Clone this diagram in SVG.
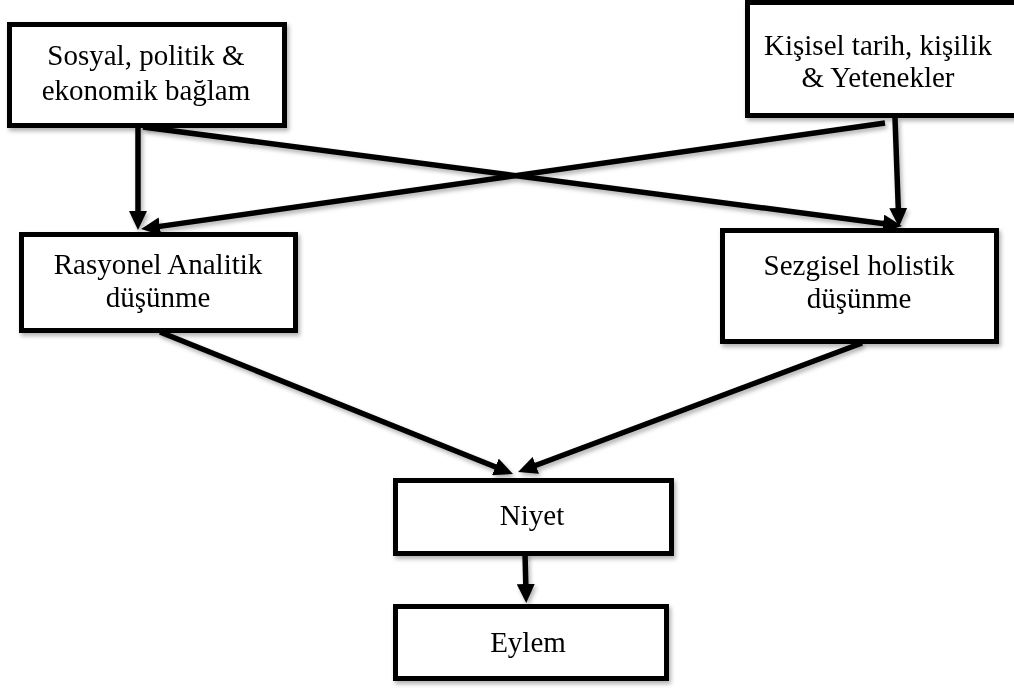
<svg xmlns="http://www.w3.org/2000/svg" width="1014" height="691" viewBox="0 0 1014 691">
<style>
.box{fill:#fff;stroke:#000;stroke-width:5}
.lbl{font-family:"Liberation Serif","Times New Roman",serif;font-size:29px;fill:#000;text-anchor:middle}
.con{stroke:#000;stroke-width:5.5;fill:none;marker-end:url(#ah)}
</style>
<defs>
<filter id="sh" x="-10%" y="-10%" width="130%" height="140%">
<feDropShadow dx="2" dy="3" stdDeviation="2" flood-color="#000" flood-opacity="0.3"/>
</filter>
<marker id="ah" markerUnits="userSpaceOnUse" markerWidth="19" markerHeight="18" viewBox="0 0 19 18" refX="9" refY="9" orient="auto">
<path d="M0,0 L19,9 L0,18 z" fill="#000"/>
</marker>
</defs>
<rect width="1014" height="691" fill="#fff"/>
<g id="connectors" filter="url(#sh)">
<line class="con" x1="138" y1="127" x2="138" y2="220"/>
<line class="con" x1="143" y1="127" x2="892" y2="224.7"/>
<line class="con" x1="885" y1="123" x2="151" y2="227.6"/>
<line class="con" x1="895" y1="118" x2="898.6" y2="217"/>
<line class="con" x1="160" y1="332" x2="503.7" y2="470.3"/>
<line class="con" x1="862" y1="343" x2="527.4" y2="468.5"/>
<line class="con" x1="525" y1="553" x2="526" y2="593"/>
</g>
<g id="n1" filter="url(#sh)">
<rect class="box" x="9.5" y="24.5" width="275" height="101"/>
<text class="lbl" x="146" y="65">Sosyal, politik &amp;</text>
<text class="lbl" x="146" y="100">ekonomik bağlam</text>
</g>
<g id="n2" filter="url(#sh)">
<rect class="box" x="747.5" y="2.5" width="280" height="113"/>
<text class="lbl" x="878" y="55">Kişisel tarih, kişilik</text>
<text class="lbl" x="878" y="87">&amp; Yetenekler</text>
</g>
<g id="n3" filter="url(#sh)">
<rect class="box" x="21.5" y="234.5" width="274" height="96"/>
<text class="lbl" x="158" y="274">Rasyonel Analitik</text>
<text class="lbl" x="158" y="307">düşünme</text>
</g>
<g id="n4" filter="url(#sh)">
<rect class="box" x="722.5" y="230.5" width="274" height="111"/>
<text class="lbl" x="859" y="275">Sezgisel holistik</text>
<text class="lbl" x="859" y="308">düşünme</text>
</g>
<g id="n5" filter="url(#sh)">
<rect class="box" x="395.5" y="480.5" width="276" height="73"/>
<text class="lbl" x="532" y="525">Niyet</text>
</g>
<g id="n6" filter="url(#sh)">
<rect class="box" x="395.5" y="606.5" width="271" height="72"/>
<text class="lbl" x="528" y="652">Eylem</text>
</g>
</svg>
